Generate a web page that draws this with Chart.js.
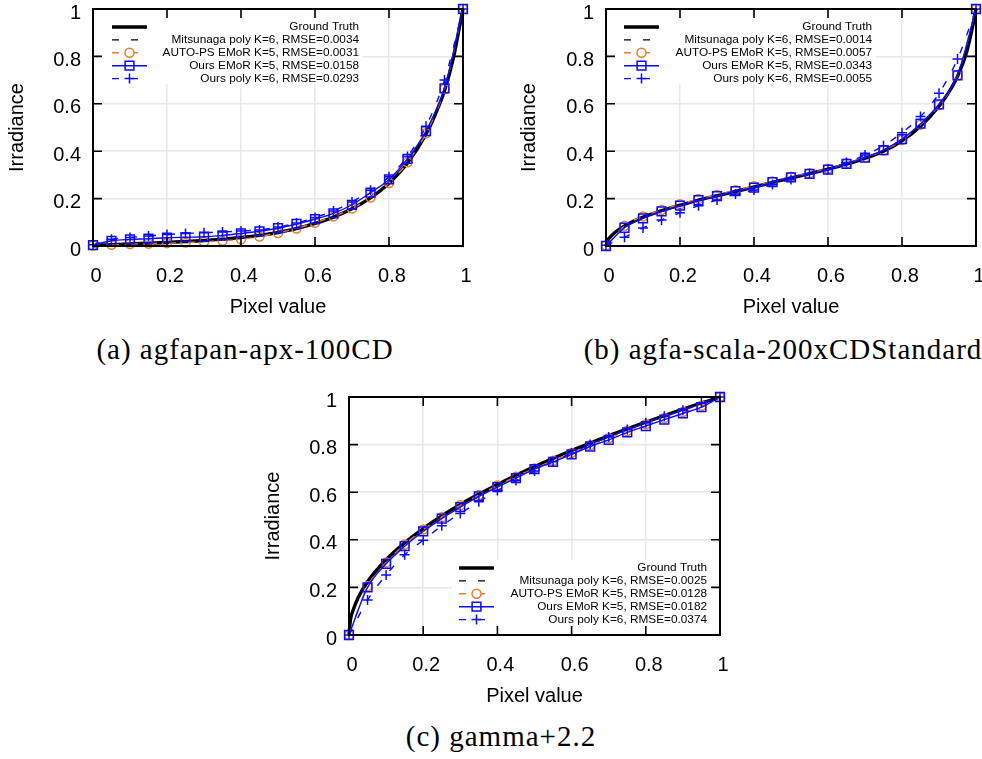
<!DOCTYPE html>
<html>
<head>
<meta charset="utf-8"/>
<title>Camera response curves</title>
<script src="https://cdn.jsdelivr.net/npm/chart.js"></script>
<style>
  body { margin:0; width:982px; height:759px; overflow:hidden; background:#fff; position:relative; }
  canvas { position:absolute; }
  .cap { position:absolute; font-family:"Liberation Serif", serif; font-size:29px; letter-spacing:1px;
         line-height:30px; white-space:nowrap; text-align:center; color:#000; }
</style>
<script type="text/javascript">
// sample positions of the markers and of the dense (line only) curves
const pixelSteps = [0, 0.05, 0.1, 0.15, 0.2, 0.25, 0.3, 0.35, 0.4, 0.45, 0.5,
                    0.55, 0.6, 0.65, 0.7, 0.75, 0.8, 0.85, 0.9, 0.95, 1];
const gtX = [0, 0.004, 0.01, 0.025, 0.05, 0.1, 0.15, 0.2, 0.25, 0.3, 0.35, 0.4, 0.45, 0.5,
             0.55, 0.6, 0.65, 0.7, 0.75, 0.8, 0.85, 0.9, 0.925, 0.95, 0.975, 0.99, 1];
const tickValues = [0, 0.2, 0.4, 0.6, 0.8, 1];

// (a) agfapan-apx-100CD
const gtA   = [0, 0.001, 0.002, 0.004, 0.006, 0.009, 0.012, 0.015, 0.019, 0.023, 0.029, 0.036, 0.045, 0.057,
               0.073, 0.095, 0.122, 0.157, 0.203, 0.265, 0.35, 0.472, 0.555, 0.655, 0.8, 0.92, 1];
const mitsA = [0, 0.001, 0.002, 0.004, 0.006, 0.009, 0.012, 0.016, 0.02, 0.025, 0.031, 0.038, 0.047, 0.059,
               0.075, 0.097, 0.124, 0.159, 0.205, 0.266, 0.35, 0.47, 0.553, 0.655, 0.8, 0.92, 1];
const autoA = [0.002, 0.005, 0.008, 0.01, 0.012, 0.015, 0.018, 0.022, 0.028, 0.04, 0.055,
               0.074, 0.098, 0.125, 0.158, 0.205, 0.266, 0.353, 0.476, 0.662, 1.0];
const emorA = [0.004, 0.022, 0.028, 0.031, 0.035, 0.037, 0.039, 0.045, 0.053, 0.062, 0.075,
               0.093, 0.113, 0.138, 0.174, 0.225, 0.281, 0.368, 0.485, 0.665, 1.0];
const polyA = [0.005, 0.028, 0.036, 0.042, 0.048, 0.053, 0.056, 0.059, 0.063, 0.068, 0.08,
               0.097, 0.12, 0.148, 0.186, 0.235, 0.292, 0.378, 0.505, 0.70, 1.0];
const labelsA = ['Ground Truth', 'Mitsunaga poly K=6, RMSE=0.0034', 'AUTO-PS EMoR K=5, RMSE=0.0031',
                 'Ours EMoR K=5, RMSE=0.0158', 'Ours poly K=6, RMSE=0.0293'];

// (b) agfa-scala-200xCDStandard
const gtB   = [0, 0.022, 0.035, 0.058, 0.085, 0.122, 0.149, 0.172, 0.194, 0.212, 0.23, 0.249, 0.268, 0.287,
               0.305, 0.324, 0.345, 0.37, 0.4, 0.444, 0.505, 0.59, 0.645, 0.715, 0.82, 0.92, 1];
const mitsB = [0, 0.02, 0.034, 0.057, 0.084, 0.122, 0.15, 0.173, 0.195, 0.213, 0.231, 0.25, 0.268, 0.287,
               0.305, 0.324, 0.345, 0.37, 0.401, 0.446, 0.507, 0.592, 0.648, 0.72, 0.82, 0.92, 1];
const autoB = [0.002, 0.085, 0.125, 0.152, 0.176, 0.198, 0.215, 0.235, 0.252, 0.272, 0.292,
               0.307, 0.326, 0.348, 0.373, 0.403, 0.447, 0.512, 0.595, 0.72, 1.0];
const emorB = [0, 0.077, 0.117, 0.146, 0.17, 0.193, 0.21, 0.232, 0.246, 0.27, 0.29,
               0.304, 0.322, 0.347, 0.373, 0.405, 0.451, 0.516, 0.598, 0.72, 1.0];
const polyB = [0.003, 0.037, 0.076, 0.11, 0.14, 0.17, 0.194, 0.219, 0.236, 0.26, 0.281,
               0.304, 0.323, 0.352, 0.384, 0.423, 0.478, 0.546, 0.644, 0.789, 1.0];
const labelsB = ['Ground Truth', 'Mitsunaga poly K=6, RMSE=0.0014', 'AUTO-PS EMoR K=5, RMSE=0.0057',
                 'Ours EMoR K=5, RMSE=0.0343', 'Ours poly K=6, RMSE=0.0055'];

// (c) gamma+2.2
const gtC   = [0, 0.065, 0.1, 0.158, 0.224, 0.316, 0.387, 0.447, 0.5, 0.548, 0.592, 0.632, 0.671, 0.707,
               0.742, 0.775, 0.806, 0.837, 0.866, 0.894, 0.922, 0.949, 0.962, 0.975, 0.987, 0.995, 1];
const mitsC = [0, 0.062, 0.098, 0.156, 0.222, 0.314, 0.385, 0.445, 0.498, 0.546, 0.59, 0.63, 0.669, 0.705,
               0.74, 0.773, 0.805, 0.835, 0.864, 0.892, 0.92, 0.947, 0.961, 0.974, 0.987, 0.995, 1];
const autoC = [0, 0.205, 0.305, 0.38, 0.443, 0.495, 0.545, 0.588, 0.628, 0.665, 0.7,
               0.732, 0.765, 0.797, 0.827, 0.857, 0.885, 0.912, 0.937, 0.963, 1.0];
const emorC = [0, 0.2, 0.299, 0.373, 0.435, 0.489, 0.537, 0.582, 0.621, 0.659, 0.697,
               0.727, 0.759, 0.792, 0.82, 0.851, 0.878, 0.905, 0.931, 0.957, 1.0];
const polyC = [0, 0.147, 0.252, 0.337, 0.398, 0.459, 0.511, 0.56, 0.607, 0.649, 0.689,
               0.728, 0.765, 0.8, 0.832, 0.863, 0.892, 0.919, 0.944, 0.975, 1.0];
const labelsC = ['Ground Truth', 'Mitsunaga poly K=6, RMSE=0.0025', 'AUTO-PS EMoR K=5, RMSE=0.0128',
                 'Ours EMoR K=5, RMSE=0.0182', 'Ours poly K=6, RMSE=0.0374'];

const ORANGE = 'rgb(236,124,44)';
const BLUE = 'rgb(10,10,255)';
const SANS = '"Liberation Sans", Arial, sans-serif';

function pts(xs, ys) { return xs.map((x, i) => ({x: x, y: ys[i]})); }

// gnuplot-like frame, inward ticks and the key box
const gnuFrame = {
  id: 'gnuFrame',
  beforeDatasetsDraw(chart, args, opts) {
    const a = chart.chartArea, k = opts.key, ctx = chart.ctx;
    ctx.save();
    ctx.fillStyle = '#fff';
    ctx.fillRect(a.left + k.boxL, a.top + k.boxT, k.boxW, k.boxH);
    ctx.restore();
  },
  afterDraw(chart, args, opts) {
    const a = chart.chartArea, ctx = chart.ctx, k = opts.key;
    const xs = chart.scales.x, ys = chart.scales.y;
    ctx.save();
    ctx.strokeStyle = '#000';
    ctx.lineWidth = 1.6;
    ctx.beginPath();
    tickValues.forEach(v => {
      const px = xs.getPixelForValue(v), py = ys.getPixelForValue(v);
      ctx.moveTo(px, a.bottom); ctx.lineTo(px, a.bottom - 9);
      ctx.moveTo(px, a.top); ctx.lineTo(px, a.top + 9);
      ctx.moveTo(a.left, py); ctx.lineTo(a.left + 9, py);
      ctx.moveTo(a.right, py); ctx.lineTo(a.right - 9, py);
    });
    ctx.stroke();
    ctx.lineWidth = 2;
    ctx.strokeRect(a.left, a.top, a.right - a.left, a.bottom - a.top);

    // key
    ctx.font = '11.8px ' + SANS;
    ctx.textAlign = 'right';
    ctx.textBaseline = 'middle';
    chart.data.datasets.forEach((ds, i) => {
      const y = a.top + k.rowT + i * 12.9;
      const x0 = a.left + k.sampleL, x1 = x0 + 35, cx = (x0 + x1) / 2;
      ctx.fillStyle = '#000';
      ctx.fillText(ds.label, a.left + k.textR, y);
      ctx.strokeStyle = ds.borderColor;
      ctx.lineWidth = ds.borderWidth;
      ctx.setLineDash(ds.borderDash || []);
      ctx.beginPath(); ctx.moveTo(x0, y); ctx.lineTo(x1, y); ctx.stroke();
      ctx.setLineDash([]);
      ctx.lineWidth = 1.5;
      const r = ds.pointRadius;
      ctx.beginPath();
      if (ds.pointStyle === 'circle' && r) {
        ctx.fillStyle = '#fff';
        ctx.arc(cx, y, r, 0, Math.PI * 2); ctx.fill(); ctx.stroke();
      } else if (ds.pointStyle === 'rect' && r) {
        const s = r * Math.SQRT1_2;
        ctx.rect(cx - s, y - s, 2 * s, 2 * s); ctx.stroke();
      } else if (ds.pointStyle === 'cross' && r) {
        ctx.moveTo(cx - r, y); ctx.lineTo(cx + r, y);
        ctx.moveTo(cx, y - r); ctx.lineTo(cx, y + r); ctx.stroke();
      }
    });
    ctx.restore();
  }
};

function makeChart(id, d) {
  const sets = [
    { label: d.labels[0], data: pts(gtX, d.gt), borderColor: '#000', borderWidth: 3.4,
      pointRadius: 0, order: 5 },
    { label: d.labels[1], data: pts(gtX, d.mits), borderColor: '#000', borderWidth: 1.4,
      borderDash: [7, 12], pointRadius: 0, order: 4 },
    { label: d.labels[2], data: pts(pixelSteps, d.auto), borderColor: ORANGE, borderWidth: 1.4,
      borderDash: [7, 12], pointStyle: 'circle', pointRadius: 4.5, pointBorderWidth: 1.5,
      pointBorderColor: ORANGE, pointBackgroundColor: 'rgba(255,255,255,0)', order: 3 },
    { label: d.labels[3], data: pts(pixelSteps, d.emor), borderColor: BLUE, borderWidth: 1.4,
      pointStyle: 'rect', pointRadius: 6.2, pointBorderWidth: 1.5,
      pointBorderColor: BLUE, pointBackgroundColor: 'rgba(255,255,255,0)', order: 2 },
    { label: d.labels[4], data: pts(pixelSteps, d.poly), borderColor: BLUE, borderWidth: 1.4,
      borderDash: [7, 12], pointStyle: 'cross', pointRadius: 5, pointBorderWidth: 1.5,
      pointBorderColor: BLUE, order: 1 }
  ];
  sets.forEach(s => { s.cubicInterpolationMode = 'monotone'; s.clip = false; s.fill = false; });

  const setTicks = scale => { scale.ticks = tickValues.map(v => ({value: v})); };
  const tickFont = {family: SANS, size: 20};
  return new Chart(document.getElementById(id), {
    type: 'line',
    data: {datasets: sets},
    options: {
      responsive: false,
      animation: false,
      devicePixelRatio: 1,
      events: [],
      layout: {padding: d.pad},
      plugins: {legend: {display: false}, tooltip: {enabled: false},
                gnuFrame: {key: d.key}},
      scales: {
        x: {
          type: 'linear', min: 0, max: 1,
          afterBuildTicks: setTicks,
          afterFit: s => { s.height = d.xH; },
          grid: {color: '#e8e8e8', lineWidth: 1.5, drawTicks: false},
          border: {display: false},
          ticks: {font: tickFont, color: '#000', padding: 18, labelOffset: 3, maxRotation: 0,
                  callback: v => String(v)},
          title: {display: true, text: 'Pixel value', font: tickFont, color: '#000',
                  padding: {top: 0, bottom: d.xTitleB}}
        },
        y: {
          type: 'linear', min: 0, max: 1,
          afterBuildTicks: setTicks,
          afterFit: s => { s.width = d.yW; },
          grid: {color: '#e8e8e8', lineWidth: 1.5, drawTicks: false},
          border: {display: false},
          ticks: {font: tickFont, color: '#000', padding: 12, labelOffset: 4,
                  callback: v => String(v)},
          title: {display: true, text: 'Irradiance', font: tickFont, color: '#000',
                  padding: {top: d.yTitleT, bottom: 0}}
        }
      }
    },
    plugins: [gnuFrame]
  });
}

window.addEventListener('load', function() {
  makeChart('chartA', {gt: gtA, mits: mitsA, auto: autoA, emor: emorA, poly: polyA, labels: labelsA,
    pad: {left: 0, top: 29, right: 27, bottom: 0}, yW: 93, xH: 84, xTitleB: 10.5, yTitleT: 5,
    key: {boxL: 0, boxT: 0, boxW: 270, boxH: 75, sampleL: 19, textR: 266, rowT: 18}});
  makeChart('chartB', {gt: gtB, mits: mitsB, auto: autoB, emor: emorB, poly: polyB, labels: labelsB,
    pad: {left: 0, top: 29, right: 24, bottom: 0}, yW: 106, xH: 84, xTitleB: 10.5, yTitleT: 17,
    key: {boxL: 0, boxT: 0, boxW: 270, boxH: 75, sampleL: 18, textR: 266, rowT: 18}});
  makeChart('chartC', {gt: gtC, mits: mitsC, auto: autoC, emor: emorC, poly: polyC, labels: labelsC,
    pad: {left: 0, top: 27, right: 30, bottom: 0}, yW: 99, xH: 85, xTitleB: 12, yTitleT: 11,
    key: {boxL: 103, boxT: 163, boxW: 268, boxH: 75, sampleL: 110, textR: 358, rowT: 171}});
});
</script>
</head>
<body>
<canvas id="chartA" width="490" height="350" style="left:0px;top:-20px"></canvas>
<canvas id="chartB" width="500" height="350" style="left:500px;top:-20px"></canvas>
<canvas id="chartC" width="500" height="350" style="left:250px;top:370px"></canvas>
<div class="cap" style="left:45px;top:334px;width:400px">(a) agfapan-apx-100CD</div>
<div class="cap" style="left:583px;top:334px;width:400px">(b) agfa-scala-200xCDStandard</div>
<div class="cap" style="left:301px;top:721px;width:400px">(c) gamma+2.2</div>
</body>
</html>
